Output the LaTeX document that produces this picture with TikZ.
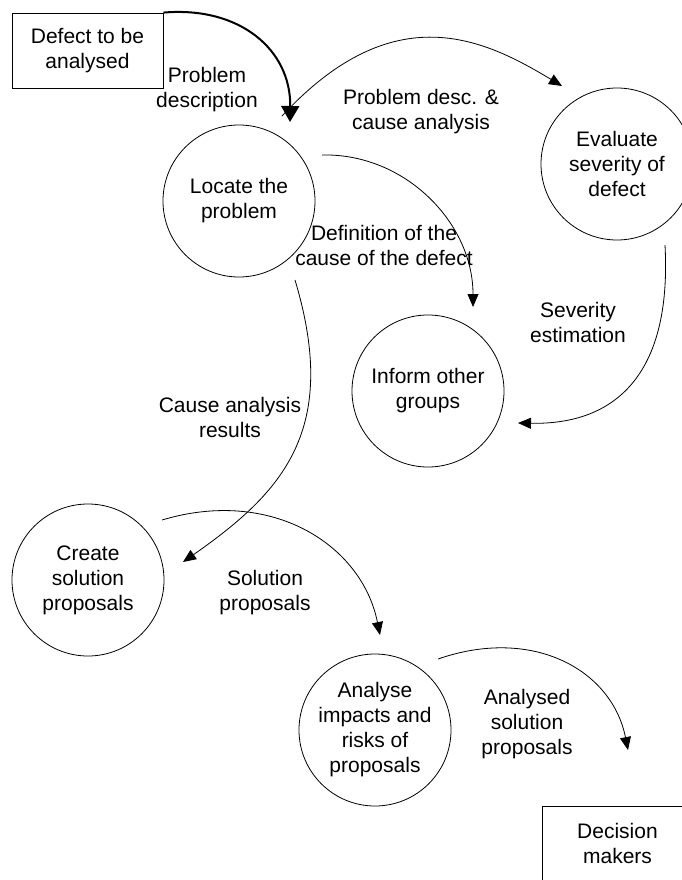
\documentclass[tikz,border=0pt]{standalone}
\usepackage{fontspec}
\setmainfont{Liberation Sans}
\usetikzlibrary{arrows.meta}
\begin{document}
\begin{tikzpicture}[x=1pt,y=-1pt,
  txt/.style={font=\fontsize{21}{25}\selectfont,align=center},
  lbl/.style={txt,inner sep=0pt},
  proc/.style={txt,circle,draw,line width=0.8pt,minimum size=152pt,inner sep=0pt},
  ext/.style={txt,draw,line width=0.8pt,minimum width=151pt,minimum height=75pt,inner sep=0pt},
  flow/.style={line width=0.8pt,-{Triangle[length=13pt,width=11pt]}},
  mainflow/.style={line width=2pt,-{Triangle[length=16pt,width=18pt]}}]
\clip (0,0) rectangle (682,880);
\fill[white] (0,0) rectangle (682,880);

% external entities
\node[ext] (defect) at (87.5,50.5) {Defect to be\\analysed};
\node[ext] (decision) at (617.5,843.5) {Decision\\makers};

% processes
\node[proc] (locate) at (239,201) {Locate the\\problem};
\node[proc] (evaluate) at (617,164) {Evaluate\\severity of\\defect};
\node[proc] (inform) at (428,391) {Inform other\\groups};
\node[proc] (create) at (88,580) {Create\\solution\\proposals};
\node[proc] (analyse) at (375,730) {Analyse\\impacts and\\risks of\\proposals};

% free ends of the data flows
\coordinate (pdEnd) at (290,122);
\coordinate (pcStart) at (282,116);
\coordinate (pcEnd) at (562,86);
\coordinate (defStart) at (322,155);
\coordinate (defEnd) at (473,307);
\coordinate (sevStart) at (665,245);
\coordinate (sevEnd) at (518,423);
\coordinate (carStart) at (295,280);
\coordinate (carEnd) at (183,562);
\coordinate (solStart) at (162,520);
\coordinate (solEnd) at (380,635);
\coordinate (anStart) at (438,659);
\coordinate (anEnd) at (628,750);

% data flows
\draw[mainflow] (defect.north east) .. controls (240,6) and (291,50) .. (pdEnd);
\draw[flow] (pcStart) .. controls (394,-5) and (484,39) .. (pcEnd);
\draw[flow] (defStart) .. controls (405,153) and (473,223) .. (defEnd);
\draw[flow] (sevStart) .. controls (672,375) and (615,425) .. (sevEnd);
\draw[flow] (carStart) .. controls (340,430) and (283,492) .. (carEnd);
\draw[flow] (solStart) .. controls (272,487) and (362,545) .. (solEnd);
\draw[flow] (anStart) .. controls (533,626) and (612,670) .. (anEnd);

% flow labels
\node[lbl] (lpd) at (207,90) {Problem\\description};
\node[lbl] (lpc) at (421,112) {Problem desc. \&\\cause analysis};
\node[lbl] (ldef) at (384,245) {Definition of the\\cause of the defect};
\node[lbl] (lsev) at (578,322) {Severity\\estimation};
\node[lbl] (lcar) at (230,417) {Cause analysis\\results};
\node[lbl] (lsol) at (265,593) {Solution\\proposals};
\node[lbl] (lan) at (527,724) {Analysed\\solution\\proposals};
\end{tikzpicture}
\end{document}
